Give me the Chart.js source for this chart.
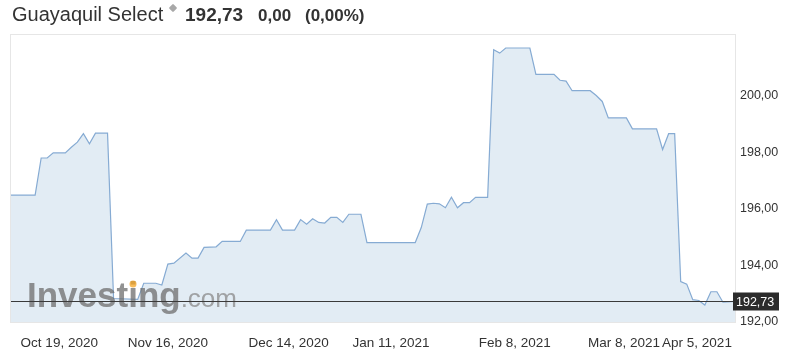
<!DOCTYPE html>
<html>
<head>
<meta charset="utf-8">
<script src="https://cdn.jsdelivr.net/npm/chart.js@4/dist/chart.umd.min.js"></script>
<style>
  html, body { margin: 0; padding: 0; background: #fff; }
  #wrap { position: relative; width: 795px; height: 358px; font-family: "Liberation Sans", Arial, sans-serif; color: #333; }
  #wrap canvas { position: absolute; left: 0; top: 0; }
  .hd { position: absolute; white-space: nowrap; line-height: 1; }
  .icon { position: absolute; left: 170px; top: 5px; width: 6px; height: 6px; background: #a8a8a8; transform: rotate(45deg); border-radius: 1px; }
</style>
</head>
<body>
<div id="wrap">
  <canvas id="chart" width="795" height="358"></canvas>
  <span class="hd" style="left:12px; top:4px; font-size:20px;">Guayaquil Select</span>
  <span class="icon"></span>
  <span class="hd" style="left:185px; top:5px; font-size:19px; font-weight:bold;">192,73</span>
  <span class="hd" style="left:258px; top:6.5px; font-size:17px; font-weight:bold;">0,00</span>
  <span class="hd" style="left:305px; top:6.5px; font-size:17px; font-weight:bold;">(0,00%)</span>
</div>
<script>
// trading session number of each close (only the turning points)
const sessions = [0, 4, 5, 6, 7, 9, 10, 11, 12, 13, 14, 16, 17, 21, 22, 24, 25, 26, 27, 29,
    30, 31, 32, 34, 35, 38, 39, 43, 44, 45, 47, 48, 49, 50, 51, 52, 53, 54, 55, 56,
    58, 59, 67, 68, 69, 70, 71, 72, 73, 74, 75, 76, 77, 79, 80, 81, 82, 86, 87, 90,
    91, 92, 93, 96, 97, 98, 99, 102, 103, 107, 108, 109, 110, 111, 112, 113, 114, 115, 116, 117,
    118, 120];
const closes = [196.49, 196.49, 197.80, 197.80, 197.98, 197.98, 198.18, 198.36, 198.66, 198.30, 198.68, 198.68, 192.83, 192.80, 193.37, 193.37, 193.31, 194.05, 194.08, 194.44,
    194.26, 194.26, 194.64, 194.66, 194.85, 194.85, 195.25, 195.25, 195.62, 195.25, 195.25, 195.62, 195.46, 195.65, 195.52, 195.50, 195.70, 195.70, 195.52, 195.81,
    195.81, 194.81, 194.81, 195.34, 196.17, 196.20, 196.18, 196.04, 196.41, 196.04, 196.22, 196.22, 196.41, 196.41, 201.63, 201.51, 201.69, 201.69, 200.76, 200.76,
    200.55, 200.52, 200.18, 200.18, 200.01, 199.80, 199.22, 199.22, 198.83, 198.83, 198.10, 198.66, 198.66, 193.43, 193.34, 192.79, 192.76, 192.60, 193.07, 193.07,
    192.70, 192.73];

const tickSessions = [8, 26, 46, 63, 83.5, 101.6, 113.7];
const tickLabels = ["Oct 19, 2020", "Nov 16, 2020", "Dec 14, 2020", "Jan 11, 2021", "Feb 8, 2021", "Mar 8, 2021", "Apr 5, 2021"];
const yTicks = [192, 194, 196, 198, 200];
const lastPrice = 192.73;

const fmt = v => v.toFixed(2).replace(".", ",");

const plotFrame = {
    id: "plotFrame",
    beforeDatasetsDraw(chart) {
        const a = chart.chartArea, ctx = chart.ctx;
        ctx.save();
        ctx.strokeStyle = "#e6e6e6";
        ctx.lineWidth = 1;
        ctx.strokeRect(a.left - 0.5, a.top - 0.5, a.right - a.left + 1, a.bottom - a.top + 1);
        ctx.restore();
    },
    afterDatasetsDraw(chart) {
        // watermark
        const ctx = chart.ctx;
        ctx.save();
        ctx.globalAlpha = 0.75;
        ctx.fillStyle = "#6e6e6e";
        ctx.textBaseline = "alphabetic";
        ctx.font = "bold 35px 'Liberation Sans', Arial";
        ctx.fillText("Investing", 27, 307);
        const w = ctx.measureText("Investing").width;
        ctx.font = "26px 'Liberation Sans', Arial";
        ctx.fillStyle = "#8a8a8a";
        ctx.fillText(".com", 27 + w, 307);
        ctx.fillStyle = "#f5a623";
        ctx.beginPath();
        ctx.arc(133, 284, 3.5, 0, Math.PI * 2);
        ctx.fill();
        ctx.restore();
    },
    afterDraw(chart) {
        const a = chart.chartArea, ctx = chart.ctx;
        const y = Math.round(chart.scales.y.getPixelForValue(lastPrice)) + 0.5;
        ctx.save();
        ctx.strokeStyle = "#3a3a3a";
        ctx.lineWidth = 1;
        ctx.beginPath();
        ctx.moveTo(a.left, y);
        ctx.lineTo(a.right, y);
        ctx.stroke();
        ctx.fillStyle = "#2b2b2b";
        ctx.fillRect(a.right - 2, y - 9, 46, 18);
        ctx.fillStyle = "#fff";
        ctx.font = "12.5px 'Liberation Sans', Arial";
        ctx.textBaseline = "middle";
        ctx.fillText(fmt(lastPrice), a.right + 1, y + 1);
        ctx.restore();
    }
};

new Chart(document.getElementById("chart"), {
    type: "line",
    data: {
        datasets: [{
            data: sessions.map((s, i) => ({ x: s, y: closes[i] })),
            borderColor: "#86abd3",
            backgroundColor: "#e2ecf4",
            borderWidth: 1.2,
            fill: "start",
            tension: 0,
            pointRadius: 0
        }]
    },
    options: {
        responsive: false,
        animation: false,
        layout: { padding: { left: 11, top: 35, right: 0, bottom: 0 } },
        plugins: { legend: { display: false }, tooltip: { enabled: false } },
        scales: {
            x: {
                type: "linear",
                min: 0,
                max: 120,
                grid: { display: false, drawTicks: false },
                border: { display: false },
                afterBuildTicks: s => { s.ticks = tickSessions.map(v => ({ value: v })); },
                afterFit: s => { s.height = 36; },
                ticks: {
                    autoSkip: false,
                    maxRotation: 0,
                    padding: 13,
                    color: "#333",
                    font: { family: "'Liberation Sans', Arial", size: 13.5 },
                    callback: (v, i) => tickLabels[i]
                }
            },
            y: {
                position: "right",
                min: 192,
                max: 202.15,
                grid: { display: false, drawTicks: false },
                border: { display: false },
                afterBuildTicks: s => { s.ticks = yTicks.map(v => ({ value: v })); },
                afterFit: s => { s.width = 60; },
                ticks: {
                    padding: 5,
                    color: "#333",
                    font: { family: "'Liberation Sans', Arial", size: 12.5 },
                    callback: v => fmt(v)
                }
            }
        }
    },
    plugins: [plotFrame]
});
</script>
</body>
</html>
